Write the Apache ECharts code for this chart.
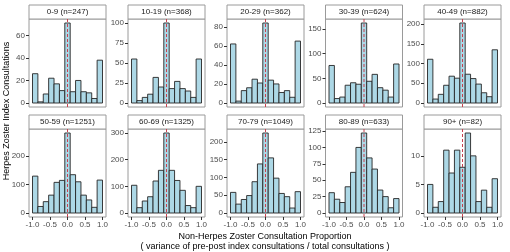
<!DOCTYPE html>
<html>
<head>
<meta charset="utf-8">
<script src="https://cdn.jsdelivr.net/npm/echarts@6/dist/echarts.min.js"></script>
<style>
  html, body { margin: 0; padding: 0; background: #fff; }
  #chart-container { width: 510px; height: 252px; }
</style>
</head>
<body>
<div id="chart-container"></div>
<script>
// facet labels
const panelLabels = [
  "0-9 (n=247)", "10-19 (n=368)", "20-29 (n=362)", "30-39 (n=624)", "40-49 (n=882)",
  "50-59 (n=1251)", "60-69 (n=1325)", "70-79 (n=1049)", "80-89 (n=633)", "90+ (n=82)"
];

// histogram counts, 13 bins over [-1, 1]
const counts0_9 = [26, 1, 8, 22, 17, 11, 71, 10, 20, 10, 9, 4, 38];
const counts10_19 = [55, 3, 7, 11, 32, 20, 100, 18, 27, 18, 15, 7, 55];
const counts20_29 = [62, 2, 13, 16, 25, 21, 84, 24, 20, 11, 13, 6, 65];
const counts30_39 = [76, 9, 12, 36, 41, 38, 162, 44, 58, 31, 26, 12, 79];
const counts40_49 = [111, 10, 22, 45, 68, 63, 203, 73, 62, 48, 26, 16, 135];
const counts50_59 = [130, 23, 40, 63, 108, 115, 282, 135, 110, 63, 46, 20, 116];
const counts60_69 = [104, 20, 45, 61, 120, 160, 300, 160, 122, 85, 28, 20, 100];
const counts70_79 = [58, 25, 38, 49, 88, 138, 225, 155, 98, 55, 46, 14, 60];
const counts80_89 = [31, 21, 16, 40, 62, 100, 122, 84, 67, 35, 25, 8, 22];
const counts90 = [5, 1, 2, 11, 7, 11, 8, 14, 10, 2, 4, 1, 6];

const allCounts = [counts0_9, counts10_19, counts20_29, counts30_39, counts40_49,
  counts50_59, counts60_69, counts70_79, counts80_89, counts90];

// y tick step per panel
const yTickSteps = [20, 25, 20, 50, 50, 100, 100, 50, 25, 5];
const xTicks = [-1, -0.5, 0, 0.5, 1];

const binCount = 13;
const binWidth = 2 / binCount;

const colLefts = [29, 128, 227, 325.5, 424];
const rowTops = [19, 129];
const panelW = 77;
const panelH = 88;
const stripH = 14;
const fontFamily = "Liberation Sans, Arial, sans-serif";

const grids = [], xAxes = [], yAxes = [], series = [], graphics = [];

allCounts.forEach((counts, i) => {
  const left = colLefts[i % 5];
  const row = Math.floor(i / 5);
  const top = rowTops[row];
  const maxC = Math.max(...counts);
  const yMin = -0.05 * maxC;
  const yMax = 1.05 * maxC;
  const yTicks = [];
  for (let v = 0; v <= yMax; v += yTickSteps[i]) yTicks.push(v);
  const bottomRow = row === 1;

  grids.push({
    left: left, top: top, width: panelW, height: panelH,
    show: true, borderColor: "#9a9a9a", borderWidth: 1, backgroundColor: "#fff"
  });

  xAxes.push({
    gridIndex: i, type: "value", min: -1.1, max: 1.1,
    splitLine: { show: false },
    axisLine: { show: false, onZero: false },
    axisTick: { show: bottomRow, length: 3, customValues: xTicks, lineStyle: { color: "#333" } },
    axisLabel: {
      show: bottomRow,
      customValues: xTicks, margin: 4, fontSize: 8, color: "#4d4d4d", fontFamily: fontFamily,
      formatter: (v) => v.toFixed(1)
    }
  });

  yAxes.push({
    gridIndex: i, type: "value", min: yMin, max: yMax,
    splitLine: { show: false },
    axisLine: { show: false, onZero: false },
    axisTick: { show: true, length: 3, customValues: yTicks, lineStyle: { color: "#333" } },
    axisLabel: {
      customValues: yTicks, margin: 4, fontSize: 8, color: "#4d4d4d", fontFamily: fontFamily
    }
  });

  const binData = counts.map((c, b) => [-1 + b * binWidth, -1 + (b + 1) * binWidth, c]);

  series.push({
    type: "custom", xAxisIndex: i, yAxisIndex: i,
    encode: { x: [0, 1], y: 2 },
    data: binData,
    renderItem: (params, api) => {
      const p0 = api.coord([api.value(0), 0]);
      const p1 = api.coord([api.value(1), api.value(2)]);
      return {
        type: "rect",
        shape: { x: p0[0], y: p1[1], width: p1[0] - p0[0], height: p0[1] - p1[1] },
        style: { fill: "#add8e6", stroke: "#262626", lineWidth: 0.9 }
      };
    },
    z: 2
  });

  series.push({
    type: "line", xAxisIndex: i, yAxisIndex: i,
    data: [[0, yMin], [0, yMax]],
    symbol: "none", silent: true,
    lineStyle: { color: "#c8404e", width: 1, type: [3, 2] },
    z: 3
  });

  graphics.push({
    type: "rect",
    shape: { x: left, y: top - stripH, width: panelW, height: stripH },
    style: { fill: "#fff", stroke: "#9a9a9a", lineWidth: 1 }
  });
  graphics.push({
    type: "text",
    x: left + panelW / 2, y: top - stripH / 2,
    style: {
      text: panelLabels[i], fontSize: 8, fill: "#1a1a1a", fontFamily: fontFamily,
      align: "center", verticalAlign: "middle"
    }
  });
});

graphics.push({
  type: "text", x: 265, y: 237,
  style: {
    text: "Non-Herpes Zoster Consultation Proportion", fontSize: 9, fill: "#000",
    fontFamily: fontFamily, align: "center", verticalAlign: "middle"
  }
});
graphics.push({
  type: "text", x: 265, y: 247,
  style: {
    text: "( variance of pre-post index consultations / total consultations )", fontSize: 9, fill: "#000",
    fontFamily: fontFamily, align: "center", verticalAlign: "middle"
  }
});
graphics.push({
  type: "text", x: 7, y: 111, rotation: Math.PI / 2,
  style: {
    text: "Herpes Zoster Index Consultations", fontSize: 9, fill: "#000",
    fontFamily: fontFamily, align: "center", verticalAlign: "middle"
  }
});

const option = {
  animation: false,
  grid: grids,
  xAxis: xAxes,
  yAxis: yAxes,
  series: series,
  graphic: graphics
};

const dom = document.getElementById("chart-container");
const myChart = echarts.init(dom, null, { renderer: "canvas" });
myChart.setOption(option);
window.addEventListener("resize", () => myChart.resize());
</script>
</body>
</html>
